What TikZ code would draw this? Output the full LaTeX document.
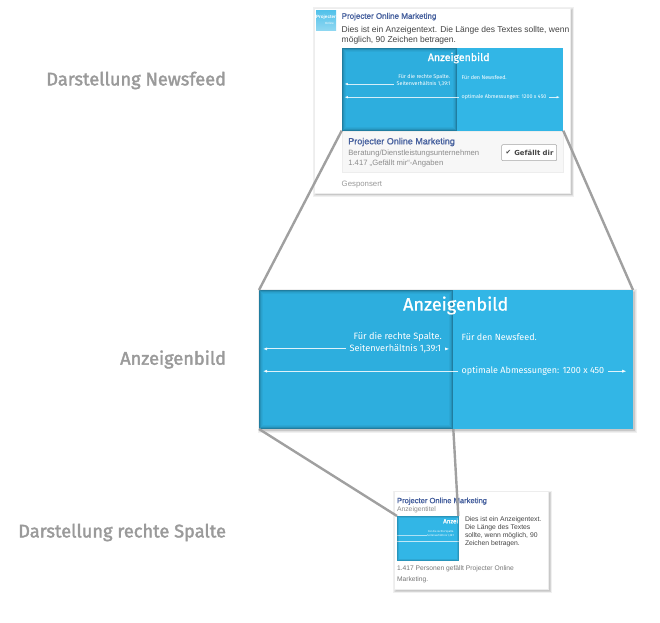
\documentclass[tikz,border=0pt]{standalone}
\usepackage{fontspec}
\setmainfont{Liberation Sans}
\newfontfamily\din{Fira Sans}
\newfontfamily\dinm[FakeBold=2]{Fira Sans}
\newfontfamily\dinn[FakeBold=1]{Fira Sans}
\newfontfamily\semib[FakeBold=1.2]{Liberation Sans}
\newfontfamily\dejavu{DejaVu Sans}
\usetikzlibrary{arrows.meta}
\definecolor{fbblue}{HTML}{46609E}
\definecolor{adblue}{HTML}{32B6E6}
\definecolor{addark}{HTML}{2DAEDE}
\definecolor{txt}{HTML}{444444}
\definecolor{muted}{HTML}{8C8C8C}
\definecolor{head}{HTML}{9A9A9A}
\definecolor{conn}{HTML}{A0A0A0}
\newcommand\softshadow[4]{%
  \foreach \i in {0,0.7,...,2.1}{
    \fill[black,opacity=0.06] ({#1+1.5-\i},{#2+1.5-\i}) rectangle ({#3+1.5+\i},{#4+1.5+\i});
  }}
\newcommand\innerdark[4]{%
  \foreach \i/\o in {0/0.28,1/0.16,2/0.08,3/0.04}{
    \draw[black,opacity=\o,line width=1pt] ({#1+\i+.5},{#2+\i+.5}) rectangle ({#3-\i-.5},{#4-\i-.5});
  }}
\tikzset{
  box/.style={inner sep=0pt,outer sep=0pt,anchor=north west},
  lbl/.style={inner sep=0pt,outer sep=0pt,anchor=west,align=left,yshift=-1.2pt},
  lblr/.style={inner sep=0pt,outer sep=0pt,anchor=east,align=right,yshift=-1.2pt},
  heading/.style={inner sep=0pt,outer sep=0pt,anchor=east,text=head,yshift=-1.5pt,font=\dinm\fontsize{18.2}{20}\selectfont},
  card/.style={box,fill=white,draw=black!7,line width=.5pt},
  conn line/.style={draw=conn,line width=2.4pt},
  dim/.style={draw=white,opacity=.8,line width=.7pt,-{Latex[length=3.5pt,width=2.6pt]}},
  dimbig/.style={draw=white,opacity=.85,line width=1pt,-{Latex[length=4.5pt,width=3.2pt]}},
}
\begin{document}
\begin{tikzpicture}[x=1pt,y=-1pt]
\useasboundingbox (0,0) rectangle (660,622);
% headings
\node[heading] (h1) at (226,79) {Darstellung Newsfeed};
\node[heading] (h2) at (226,358) {Anzeigenbild};
\node[heading] (h3) at (226,531) {Darstellung rechte Spalte};
% newsfeed card
\softshadow{314}{8}{570.5}{193}
\node[card,minimum width=256.5pt,minimum height=185pt] (newscard) at (314,8) {};
\node[box,minimum width=20pt,minimum height=20pt,top color=adblue!85,bottom color=adblue!55] (logo) at (316,10) {};
\node[inner sep=0pt,text=white,font=\fontsize{4.6}{5}\selectfont\bfseries] (logotext) at (326,17) {Projecter};
\node[inner sep=0pt,text=white,font=\fontsize{3}{3}\selectfont] (logotext2) at (329.5,23) {Online};
\node[lbl,text=fbblue,font=\semib\fontsize{8}{9}\selectfont] (n1) at (341.7,15.5) {Projecter Online Marketing};
\node[lbl,text=txt,font=\fontsize{8.5}{10}\selectfont] (n2) at (341.7,29) {Dies ist ein Anzeigentext. Die Länge des Textes sollte, wenn};
\node[lbl,text=txt,font=\fontsize{8.5}{10}\selectfont] (n3) at (341.7,39.5) {möglich, 90 Zeichen betragen.};
\node[box,fill=adblue,minimum width=221.6pt,minimum height=82.5pt] (newsimg) at (341.7,48.2) {};
\fill[addark] (341.7,48.2) rectangle (457.3,130.7);
\innerdark{341.7}{48.2}{457.3}{130.7}
\node[inner sep=0pt,text=white,yshift=-.5pt,font=\dinn\fontsize{10.6}{12}\selectfont] (n4) at (458.7,57.5) {Anzeigenbild};
\node[lblr,text=white,font=\din\fontsize{5.4}{6}\selectfont] (n5) at (450,76) {Für die rechte Spalte.};
\node[lblr,text=white,font=\din\fontsize{5.4}{6}\selectfont] (n6) at (450.5,82.8) {Seitenverhältnis 1,39:1};
\node[lbl,text=white,font=\din\fontsize{5.4}{6}\selectfont] (n7) at (461.7,76) {Für den Newsfeed.};
\node[lbl,text=white,font=\din\fontsize{5.35}{6}\selectfont] (n8) at (461.7,96) {optimale Abmessungen: 1200 x 450};
\coordinate (a0) at (344.3,84);
\coordinate (a4) at (344.3,96);
\coordinate (a5) at (560,96);
\draw[dim] ([xshift=-3pt]n6.west) -- (n6.west -| a0);
\draw[dim] ([xshift=-3pt]n8.west) -- (n8.west -| a4);
\draw[dim] ([xshift=3pt]n8.east) -- (n8.east -| a5);
% footer
\node[box,fill=black!3,draw=black!7,line width=.4pt,minimum width=221.6pt,minimum height=41pt] (foot) at (341.7,130.7) {};
\node[lbl,text=fbblue,font=\semib\fontsize{9}{11}\selectfont] (f1) at (348.3,140.8) {Projecter Online Marketing};
\node[lbl,text=muted,font=\fontsize{7.7}{10}\selectfont] (f2) at (348.3,152) {Beratung/Dienstleistungsunternehmen};
\node[lbl,text=muted,font=\fontsize{7.7}{10}\selectfont] (f3) at (348.3,162.3) {1.417 „Gefällt mir“-Angaben};
\node[box,fill=white,draw=black!35,rounded corners=1pt,line width=.5pt,minimum width=55pt,minimum height=16pt] (btn) at (501.7,144.7) {};
\node[inner sep=0pt,text=txt,font=\dejavu\fontsize{6.6}{7}\selectfont] (chk) at (508.5,152.7) {✔};
\node[lbl,text=txt,font=\dejavu\bfseries\fontsize{6.9}{9}\selectfont] (f4) at (514.3,151.7) {Gefällt dir};
\node[lbl,text=black!40,font=\fontsize{7.8}{9}\selectfont] (f5) at (341.7,183) {Gesponsert};
% big image
\softshadow{259}{290}{633}{429}
\node[box,fill=adblue,minimum width=374pt,minimum height=139pt] (bigimg) at (259,290) {};
\fill[addark] (259,290) rectangle (453.3,429);
\innerdark{259}{290}{453.3}{429}
\node[inner sep=0pt,text=white,yshift=-1pt,font=\dinn\fontsize{18.1}{22}\selectfont] (b1) at (455.7,304.5) {Anzeigenbild};
\node[lblr,text=white,font=\din\fontsize{9.2}{11}\selectfont] (b2) at (441.7,336) {Für die rechte Spalte.};
\node[lblr,text=white,font=\din\fontsize{9.2}{11}\selectfont] (b3) at (441.2,347.7) {Seitenverhältnis 1,39:1};
\node[lbl,text=white,font=\din\fontsize{9}{11}\selectfont] (b4) at (461.7,336) {Für den Newsfeed.};
\node[lbl,text=white,font=\din\fontsize{9}{11}\selectfont] (b5) at (461.7,370) {optimale Abmessungen: 1200 x 450};
\coordinate (c0) at (262.7,370);
\coordinate (c5) at (449.5,370);
\coordinate (c6) at (626.7,370);
\draw[dimbig] ([xshift=-4pt]b3.west) -- (b3.west -| c0);
\draw[dimbig] ([xshift=4pt]b3.east) -- (b3.east -| c5);
\draw[dimbig] ([xshift=-4pt]b5.west) -- (b5.west -| c0);
\draw[dimbig] ([xshift=4pt]b5.east) -- (b5.east -| c6);
% right column card
\softshadow{394}{491.5}{548.5}{589.5}
\node[card,minimum width=154.5pt,minimum height=98pt] (sidecard) at (394,491.5) {};
\node[lbl,text=fbblue,font=\semib\fontsize{7.6}{9}\selectfont] (s1) at (397,500) {Projecter Online Marketing};
\node[lbl,text=muted,font=\fontsize{6.8}{8}\selectfont] (s2) at (397,508.7) {Anzeigentitel};
\node[box,fill=adblue,minimum width=62pt,minimum height=44.7pt] (sidethumb) at (397,516) {};
\node[inner sep=0pt,text=white,font=\dinn\fontsize{6.2}{7}\selectfont,anchor=west] (t1) at (443,521) {Anzei};
\node[lblr,text=white,font=\din\fontsize{2.7}{3}\selectfont] (t2) at (454,530.5) {Für die rechte Spalte.};
\node[lblr,text=white,font=\din\fontsize{2.7}{3}\selectfont] (t3) at (454,534) {Seitenverhältnis 1,39:1};
\draw[white,opacity=.6,line width=.6pt] (sidethumb.west |- t3.west) -- (t3.west);
\coordinate (t4) at (397,541.7);
\draw[white,opacity=.7,line width=.6pt] (t4) -- (t4 -| sidethumb.east);
\foreach \i/\o in {0/0.18,1/0.08}{
  \draw[black,opacity=\o,line width=1pt] ({397+\i+.5},{516+\i+.5}) rectangle ({459-\i-.5},{560.7-\i-.5});
}
\node[lbl,text=txt,font=\fontsize{6.8}{7}\selectfont] (s3) at (465,518.3) {Dies ist ein Anzeigentext.};
\node[lbl,text=txt,font=\fontsize{6.8}{7}\selectfont] (s4) at (465,526.3) {Die Länge des Textes};
\node[lbl,text=txt,font=\fontsize{6.8}{7}\selectfont] (s5) at (465,534.5) {sollte, wenn möglich, 90};
\node[lbl,text=txt,font=\fontsize{6.8}{7}\selectfont] (s6) at (465,542.7) {Zeichen betragen.};
\node[lbl,text=muted!85!black,font=\fontsize{6.7}{8}\selectfont] (s7) at (397,568) {1.417 Personen gefällt Projecter Online};
\node[lbl,text=muted!85!black,font=\fontsize{6.7}{8}\selectfont] (s8) at (397,578.3) {Marketing.};
% connectors
\draw[conn line] (newsimg.south west) -- (bigimg.north west);
\draw[conn line] (newsimg.south east) -- (bigimg.north east);
\draw[conn line] (bigimg.south west) -- (sidethumb.north west);
\coordinate (bigdiv) at (453.3,429);
\draw[conn line] (bigdiv) -- ([xshift=-.7pt]sidethumb.north east);
\end{tikzpicture}
\end{document}
